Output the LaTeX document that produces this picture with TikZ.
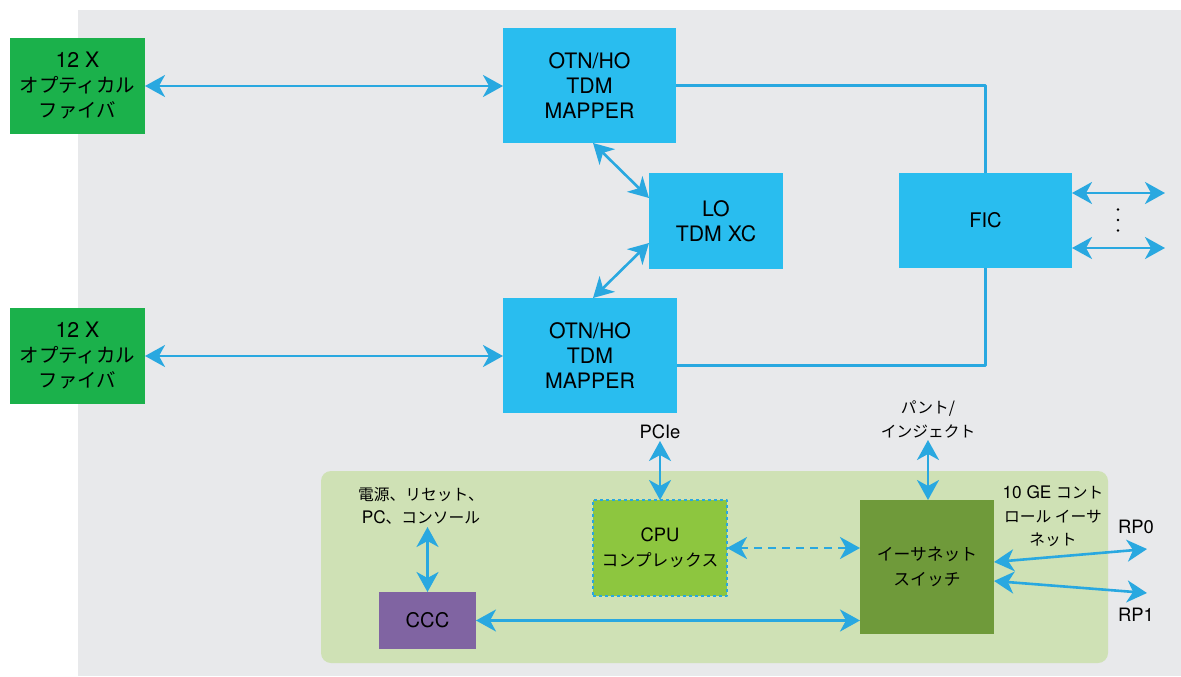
\documentclass[tikz,border=0pt]{standalone}
\usepackage{fontspec}
\setmainfont{TeX Gyre Heros}[Scale=1.15]
\newfontfamily\jp{Noto Sans CJK JP}[Scale=1.05]
\usetikzlibrary{arrows.meta}
\definecolor{panelgrey}{HTML}{E8E9EB}
\definecolor{boxblue}{HTML}{29BDEF}
\definecolor{linkblue}{HTML}{29A8E0}
\definecolor{fibergreen}{HTML}{1BB14B}
\definecolor{ctrlgreen}{HTML}{CFE1B5}
\definecolor{cpugreen}{HTML}{8DC63F}
\definecolor{swgreen}{HTML}{6F9A3A}
\definecolor{cccpurple}{HTML}{8064A2}

\begin{document}
\begin{tikzpicture}[x=1pt, y=-1pt, line join=round, >={Stealth[length=20pt,width=22pt,inset=6pt]},
	box/.style={rectangle, inner sep=0pt, outer sep=0pt, align=center, text=black},
	big/.style={font=\fontsize{18.5}{25}\selectfont},
	small/.style={font=\fontsize{16}{25}\selectfont},
	lbl/.style={inner sep=2pt, align=center, font=\fontsize{15}{23.5}\selectfont},
	link/.style={draw=linkblue, line width=2.6pt}]
\useasboundingbox (0,0) rectangle (1181,677);
			\fill[panelgrey] (78,10) rectangle (1181,676);
			\fill[ctrlgreen, rounded corners=10pt] (321,471) rectangle (1108,663);
			% data path
			\node[box, big, fill=fibergreen, minimum width=135pt, minimum height=96pt] (f1) at (77.5,86) {12 X\\{\jp オプティカル}\\{\jp ファイバ}};
			\node[box, big, fill=fibergreen, minimum width=135pt, minimum height=96pt] (f2) at (77.5,356) {12 X\\{\jp オプティカル}\\{\jp ファイバ}};
			\node[box, big, fill=boxblue, minimum width=173pt, minimum height=115pt] (m1) at (589.5,85.5) {OTN/HO\\TDM\\MAPPER};
			\node[box, big, fill=boxblue, minimum width=174pt, minimum height=115pt] (m2) at (590,355.5) {OTN/HO\\TDM\\MAPPER};
			\node[box, big, fill=boxblue, minimum width=134pt, minimum height=96pt] (lo) at (716,221) {LO\\TDM XC};
			\node[box, fill=boxblue, minimum width=173pt, minimum height=95pt, font=\fontsize{17.5}{24}\selectfont] (fic) at (985.5,220.5) {FIC};
			\coordinate (p0) at (1165,193);
			\coordinate (p1) at (1165,248);
			\draw[link, <->] (f1.east) -- (f1.east -| m1.west);
			\draw[link, <->] (f2.east) -- (f2.east -| m2.west);
			\draw[link, <->] ([xshift=3.5pt]m1.south) -- ([yshift=23pt]lo.west);
			\draw[link, <->] ([yshift=-22pt]lo.west) -- ([xshift=3pt]m2.north);
			\draw[link] (m1.east) -| (fic.north);
			\draw[link] ([yshift=-10pt]m2.east) -| (fic.south);
			\draw[link, <->] (p0 -| fic.east) -- (p0);
			\draw[link, <->] (p1 -| fic.east) -- (p1);
			\foreach \y in {209.5,220,230.5} \fill (1118,\y) circle (1.4pt);
			% control plane
			\node[box, small, fill=cpugreen, draw=linkblue, dashed, line width=1.2pt, minimum width=134pt, minimum height=96pt] (cpu) at (660,548) {CPU\\{\jp コンプレックス}};
			\node[box, fill=cccpurple, minimum width=97pt, minimum height=57pt, font=\fontsize{17.5}{24}\selectfont] (ccc) at (427.5,620.5) {CCC};
			\node[box, small, fill=swgreen, minimum width=134pt, minimum height=134pt] (sw) at (927,567) {{\jp イーサネット}\\{\jp スイッチ}};
			\node[lbl, anchor=south, font=\fontsize{16}{23.5}\selectfont] (pcie) at (660,441) {PCIe};
			\node[lbl, anchor=south] (punt) at (928,440) {\jp パント/\\\jp インジェクト};
			\node[lbl, anchor=south] (pwr) at (421,527) {\jp 電源、リセット、\\PC{\jp 、コンソール}};
			\node[lbl, anchor=south] (ge) at (1053,549) {10 GE {\jp コント}\\{\jp ロール イーサ}\\{\jp ネット}};
			\coordinate (rp0) at (1147,549);
			\coordinate (rp1) at (1147,593);
			\node[lbl, anchor=base, font=\fontsize{16}{23.5}\selectfont] (rp0l) at (1136,533) {RP0};
			\node[lbl, anchor=base, font=\fontsize{16}{23.5}\selectfont] (rp1l) at (1136,621) {RP1};
			\draw[link, <->] (pcie.south) -- (cpu.north);
			\draw[link, <->] (punt.south) -- (punt.south |- sw.north);
			\draw[link, <->] (pwr.south -| ccc.north) -- (ccc.north);
			\draw[link, <->, dash pattern=on 8pt off 6pt] (cpu.east) -- (cpu.east -| sw.west);
			\draw[link, <->] (ccc.east) -- (ccc.east -| sw.west);
			\draw[link, <->] ([yshift=5pt]sw.east) -- (rp0);
			\draw[link, <->] ([yshift=-14pt]sw.east) -- (rp1);
		\end{tikzpicture}
\end{document}
